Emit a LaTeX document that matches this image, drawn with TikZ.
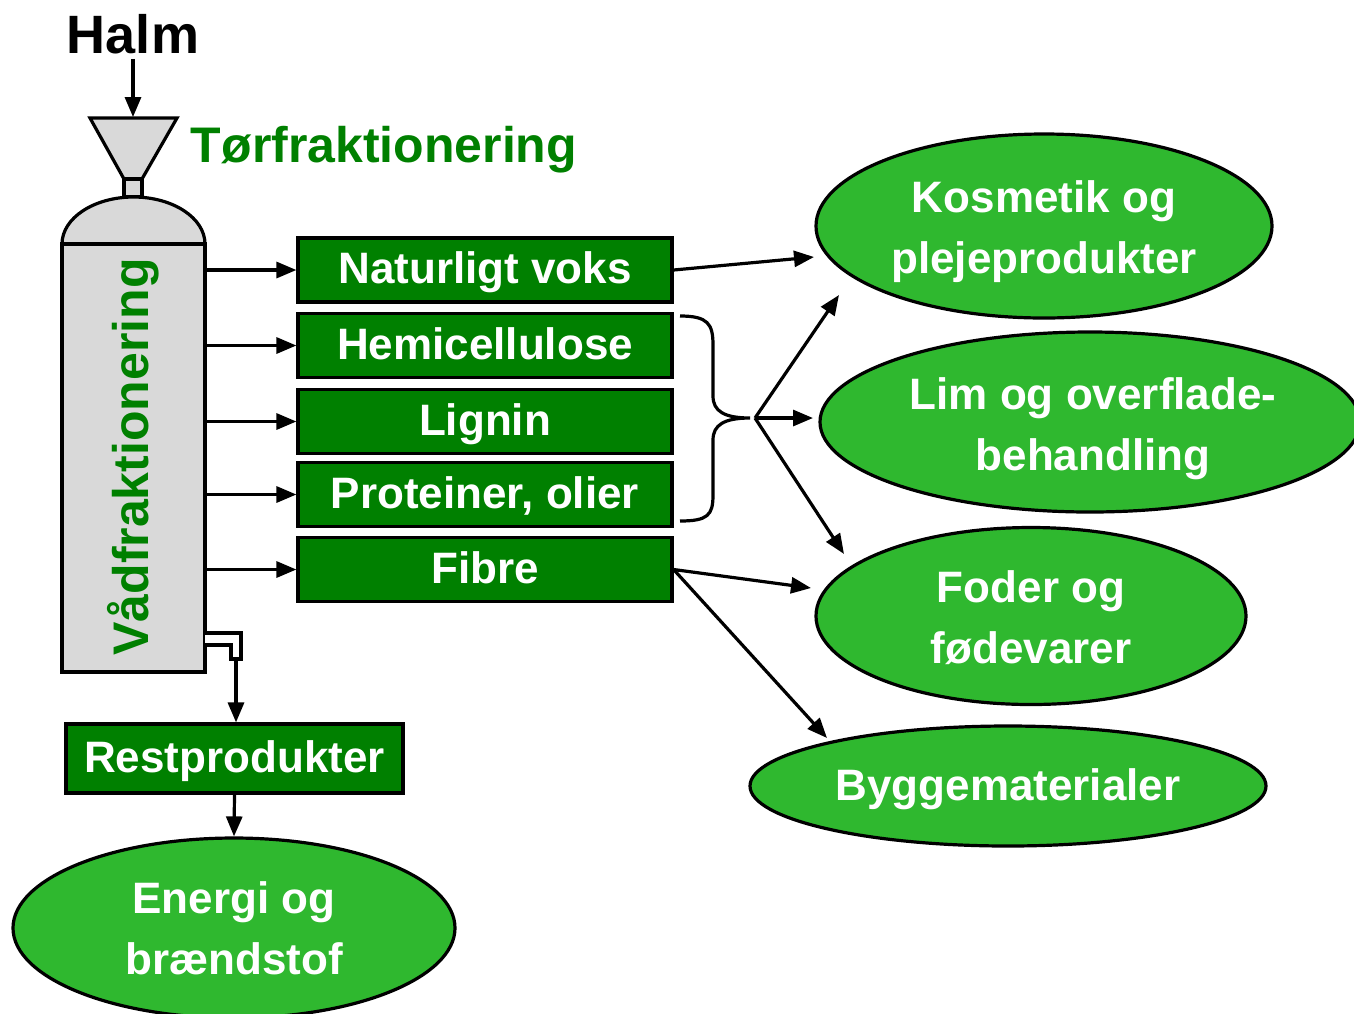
\documentclass[tikz,border=0pt]{standalone}
\usepackage{fontspec}
\setmainfont{Liberation Sans}
\usetikzlibrary{shapes.geometric,arrows.meta}
\definecolor{dkgreen}{HTML}{008000}
\definecolor{ltgreen}{HTML}{2FB82F}
\definecolor{colgray}{HTML}{D9D9D9}
% #1 = twice the downward visual shift
\newcommand{\twoline}[3]{\raisebox{0pt}[\height][\dimexpr\depth-#1\relax]{\begin{tabular}{@{}c@{}}#2\\#3\end{tabular}}}
\newcommand{\oneline}[2]{\raisebox{0pt}[\height][\dimexpr\depth-#1\relax]{#2}}
\begin{document}
\begin{tikzpicture}[x=1pt,y=-1pt,
  line width=3.2pt,
  arr/.style={-{Triangle[length=20pt,width=16pt]},line width=3.2pt},
  gbox/.style={draw=black,fill=dkgreen,text=white,minimum width=374pt,minimum height=64pt,inner sep=0pt,
     text height=33pt,text depth=5.7pt,
     font=\bfseries\fontsize{44}{52}\selectfont},
  gell/.style={draw=black,fill=ltgreen,text=white,ellipse,inner sep=0pt,align=center,
     font=\bfseries\fontsize{44}{61}\selectfont},
]
\useasboundingbox (0,0) rectangle (1354,1013);

% Halm and funnel
\node[font=\bfseries\fontsize{54}{60}\selectfont] (halm) at (133,34) {Halm};
\coordinate (funtop) at (133,117);
\draw[arr] (halm.south) -- (funtop);
\draw[fill=colgray] (90,118) -- (177,118) -- (142,179) -- (124,179) -- cycle;
\draw[fill=colgray] (124,179) rectangle (142,197);
\node[text=dkgreen,font=\bfseries\fontsize{50}{56}\selectfont,anchor=west] (tor) at (186,150) {Tørfraktionering};

% column
\draw[fill=colgray] (62,244) arc[start angle=180,end angle=360,x radius=71.5,y radius=47] -- cycle;
\node[draw=black,fill=colgray,minimum width=143pt,minimum height=428pt,inner sep=0pt] (col) at (133.5,458) {};
\node[text=dkgreen,rotate=90,font=\bfseries\fontsize{50}{56}\selectfont] (vad) at (133,457) {Vådfraktionering};

% pipe
\draw[fill=white] (205,633) -- (241,633) -- (241,659) -- (231,659) -- (231,645) -- (205,645);
\coordinate (pipeout) at (236,659);

% boxes
\node[gbox] (voks) at (485,270) {Naturligt voks};
\node[gbox] (hemi) at (485,345.5) {Hemicellulose};
\node[gbox] (lig) at (485,421.5) {Lignin};
\node[gbox] (prot) at (485,494.5) {Proteiner, olier};
\node[gbox] (fib) at (485,569.5) {Fibre};

\foreach \b in {voks,hemi,lig,prot,fib}{
  \draw[arr] (col.east |- \b.west) -- (\b.west);
}

% Restprodukter
\node[gbox,minimum width=337pt,minimum height=69pt] (rest) at (234.5,758.5) {Restprodukter};
\draw[arr] (pipeout) -- (pipeout |- rest.north);

% ellipses
\node[gell,minimum width=456pt,minimum height=184pt] (kos) at (1044,226) {\twoline{10pt}{Kosmetik og}{plejeprodukter}};
\node[gell,minimum width=540pt,minimum height=180pt] (lim) at (1090,422) {\hspace*{6pt}\twoline{12pt}{Lim og overflade-}{behandling}};
\node[gell,minimum width=430pt,minimum height=177pt] (fod) at (1031,616) {\twoline{10pt}{Foder og}{fødevarer}};
\node[gell,minimum width=516pt,minimum height=120pt] (byg) at (1008,786) {\oneline{6pt}{Byggematerialer}};
\node[gell,minimum width=442pt,minimum height=180pt] (ene) at (234,928) {\twoline{8pt}{Energi og}{brændstof}};

\draw[arr] (rest.south) -- (ene.north);

% brace
\draw (680,316) .. controls (708,316) and (713,324) .. (713,345) -- (713,396)
   .. controls (713,411) and (724,418) .. (750,418)
   .. controls (724,418) and (713,425) .. (713,440) -- (713,495)
   .. controls (713,515) and (708,521) .. (680,521);

% fan
\coordinate (fan) at (755,418);
\coordinate (f1) at (839,295);
\coordinate (f2) at (813,418);
\coordinate (f3) at (844,554);
\draw[arr] (fan) -- (f1);
\draw[arr] (fan) -- (f2);
\draw[arr] (fan) -- (f3);

% voks arrow
\coordinate (v1) at (814,257);
\draw[arr] (voks.east) -- (v1);

% fibre arrows
\coordinate (b1) at (811,588);
\coordinate (b2) at (827,738);
\draw[arr] (fib.east) -- (b1);
\draw[arr] (fib.east) -- (b2);
\end{tikzpicture}
\end{document}
